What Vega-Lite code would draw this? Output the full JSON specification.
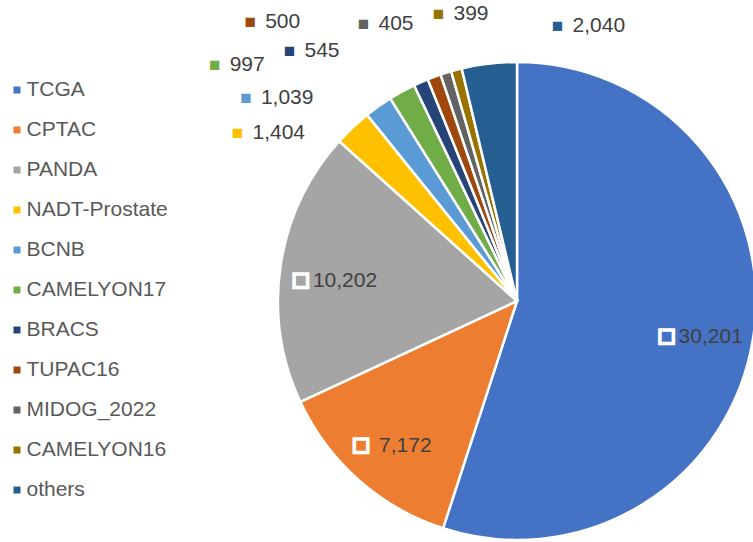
{
  "$schema": "https://vega.github.io/schema/vega-lite/v6.json",
  "width": 478,
  "height": 478,
  "autosize": {"type": "none"},
  "padding": {"left": 278, "top": 62, "right": 0, "bottom": 0},
  "background": "white",
  "config": {"view": {"stroke": null}, "font": "Liberation Sans", "text": {"font": "Liberation Sans"}},
  "data": {
    "values": [
      {"name": "TCGA", "value": 30201, "order": 1},
      {"name": "CPTAC", "value": 7172, "order": 2},
      {"name": "PANDA", "value": 10202, "order": 3},
      {"name": "NADT-Prostate", "value": 1404, "order": 4},
      {"name": "BCNB", "value": 1039, "order": 5},
      {"name": "CAMELYON17", "value": 997, "order": 6},
      {"name": "BRACS", "value": 545, "order": 7},
      {"name": "TUPAC16", "value": 500, "order": 8},
      {"name": "MIDOG_2022", "value": 405, "order": 9},
      {"name": "CAMELYON16", "value": 399, "order": 10},
      {"name": "others", "value": 2040, "order": 11}
    ]
  },
  "resolve": {"scale": {"theta": "independent", "radius": "independent"}},
  "layer": [
    {
      "encoding": {
        "theta": {"field": "value", "type": "quantitative", "stack": true},
        "order": {"field": "order", "type": "quantitative"}
      },
      "layer": [
        {
          "mark": {"type": "arc", "stroke": "white", "strokeWidth": 2.5},
          "encoding": {
            "color": {
              "field": "name", "type": "nominal",
              "scale": {
                "domain": ["TCGA", "CPTAC", "PANDA", "NADT-Prostate", "BCNB", "CAMELYON17", "BRACS", "TUPAC16", "MIDOG_2022", "CAMELYON16", "others"],
                "range": ["#4472C4", "#ED7D31", "#A5A5A5", "#FFC000", "#5B9BD5", "#70AD47", "#264478", "#9E480E", "#636363", "#997300", "#255E91"]
              },
              "legend": {
                "orient": "none", "legendX": -271.5, "legendY": 17.5, "title": null,
                "symbolType": "square", "symbolSize": 49, "symbolStrokeWidth": 0,
                "labelFontSize": 21, "labelColor": "#595959", "labelFont": "Liberation Sans",
                "rowPadding": 18, "labelOffset": -1, "padding": 0
              }
            }
          }
        },
        {
          "mark": {"type": "text", "radius": 185, "dx": -33, "dy": 7, "fontSize": 28, "stroke": "white", "strokeWidth": 3.5, "align": "center", "baseline": "middle"},
          "encoding": {
            "color": {"field": "name", "type": "nominal"},
            "text": {"condition": {"test": "datum.value > 5000", "value": "■"}, "value": ""}
          }
        },
        {
          "mark": {"type": "text", "radius": 185, "dx": 11, "dy": 7, "fontSize": 21, "fill": "#404040", "align": "center", "baseline": "middle"},
          "encoding": {
            "detail": {"field": "name", "type": "nominal"},
            "text": {"condition": {"test": "datum.value > 5000", "field": "value", "type": "quantitative", "format": ","}, "value": ""}
          }
        }
      ]
    },
    {
      "transform": [{"filter": "datum.order >= 4"}],
      "encoding": {
        "theta": {
          "field": "order", "type": "quantitative", "stack": false,
          "scale": {"type": "linear", "nice": false, "zero": false, "domain": [4, 5, 6, 7, 8, 9, 10, 11], "range": [-1.0297, -0.9285, -0.9076, -0.7383, -0.7627, -0.5061, -0.267, 0.1466]}
        },
        "radius": {
          "field": "order", "type": "quantitative",
          "scale": {"type": "linear", "nice": false, "zero": false, "domain": [4, 5, 6, 7, 8, 9, 10, 11], "range": [326.1, 338.6, 383.7, 338.0, 386.2, 316.7, 297.5, 278.0]}
        }
      },
      "layer": [
        {
          "mark": {"type": "text", "text": "■", "fontSize": 19, "align": "center", "baseline": "middle"},
          "encoding": {"color": {"field": "name", "type": "nominal"}}
        },
        {
          "mark": {"type": "text", "align": "left", "baseline": "middle", "dx": 15, "fontSize": 21, "fill": "#404040"},
          "encoding": {"text": {"field": "value", "type": "quantitative", "format": ","}}
        }
      ]
    }
  ]
}
